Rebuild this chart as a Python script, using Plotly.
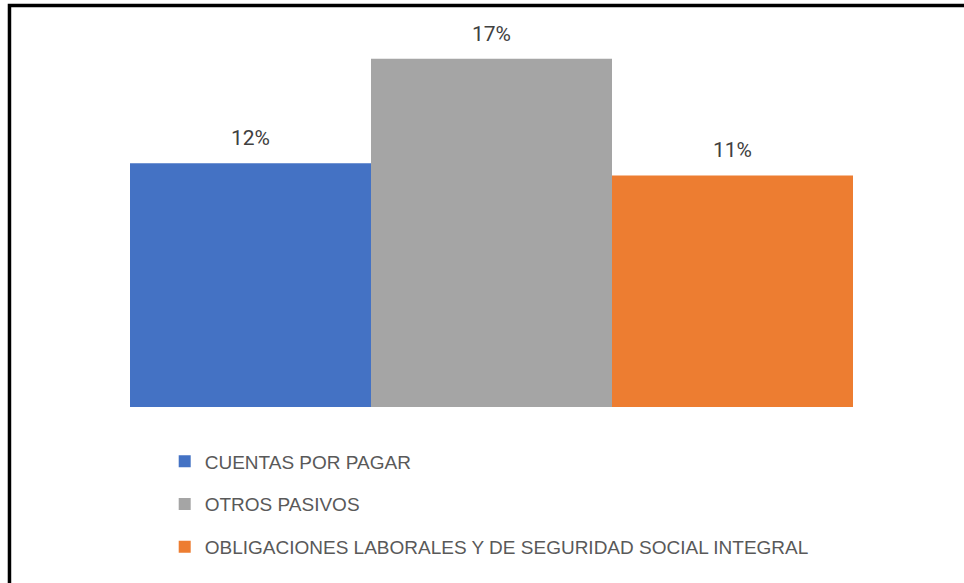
import plotly.graph_objects as go

categorias = ["CUENTAS POR PAGAR", "OTROS PASIVOS",
              "OBLIGACIONES LABORALES Y DE SEGURIDAD SOCIAL INTEGRAL"]
valores = [0.119, 0.170, 0.113]
etiquetas = ["12%", "17%", "11%"]
colores = ["#4472C4", "#A5A5A5", "#ED7D31"]

fig = go.Figure()
for i, (cat, val, col) in enumerate(zip(categorias, valores, colores)):
    fig.add_trace(go.Bar(x=[i], y=[val], name=cat, width=1,
                         marker=dict(color=col, line=dict(width=0)),
                         legendgroup=cat, hoverinfo="skip"))
    # etiqueta de dato encima de la barra
    fig.add_annotation(x=i, y=val, text=etiquetas[i], showarrow=False,
                       yanchor="middle", yshift=25,
                       font=dict(family="Roboto", size=21, color="#404040"))

# marco negro del recuadro (solo se ven los bordes izq. y sup.)
fig.add_shape(type="rect", xref="paper", yref="paper",
              x0=-0.1667, x1=1.5, y0=-0.6, y1=1.065,
              line=dict(color="black", width=3.5))

fig.update_layout(
    width=964, height=583,
    margin=dict(l=130, r=111, t=30, b=176),
    plot_bgcolor="white", paper_bgcolor="white",
    font=dict(family="Liberation Sans", color="#595959", size=19),
    xaxis=dict(range=[-0.5, 2.5], visible=False, fixedrange=True),
    yaxis=dict(range=[0, 0.184], visible=False, fixedrange=True),
    showlegend=True,
    legend=dict(x=0.048, y=-0.094, xanchor="left", yanchor="top",
                orientation="v", tracegroupgap=15,
                font=dict(family="Liberation Sans", size=19, color="#595959")),
)

fig.write_html("out.html", config={"displayModeBar": False},
               post_script="document.body.style.margin='0';"
                           "document.body.style.overflow='hidden';")
